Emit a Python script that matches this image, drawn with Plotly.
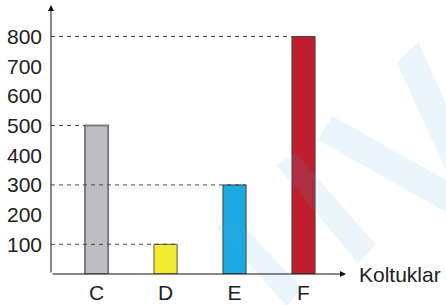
import plotly.graph_objects as go

categories = ["C", "D", "E", "F"]
values = [500, 100, 300, 800]
colors = ["#bdbec2", "#f5eb30", "#1ba9e1", "#be1e2d"]
outlines = ["#7d7d7d", "#555555", "#444444", "#444444"]
y_ticks = [100, 200, 300, 400, 500, 600, 700, 800]
x_title = "Koltuklar"

xpos = list(range(len(categories)))
X0, X1 = -0.66, 3.616
Y0, Y1 = 0, 906
BW = 0.335

fig = go.Figure()

fig.add_trace(go.Bar(
    x=xpos, y=values, width=BW,
    marker=dict(color=colors, line=dict(color=outlines, width=[2, 1, 1, 1])),
    hoverinfo="skip",
))

# dashed reference lines from the y axis to each bar top
for i, v in enumerate(values):
    if categories[i] in ("C",):
        xe = xpos[i] - BW / 2
    else:
        xe = xpos[i] + BW / 2
    fig.add_shape(type="line", xref="x", yref="y", x0=X0, x1=xe, y0=v, y1=v,
                  line=dict(color="#4a4a4a", width=1, dash="4px,4px"), layer="above")

# faint watermark bands (semi-transparent, drawn over the chart like the original)
wm = "#3fb0e0"
for p in [
    "M 1.173 0.784 L 1.244 0.862 L 1.34 0.632 L 1.34 0.383 Z",
    "M 0.953 0.587 L 1.34 0.349 L 1.34 0.230 L 0.905 0.498 Z",
    "M 0.765 0.405 L 0.830 0.450 L 1.10 0.110 L 1.04 0.04 Z",
    "M 0.56 0.175 L 0.62 0.215 L 0.85 -0.05 L 0.80 -0.12 Z",
]:
    fig.add_shape(type="path", xref="paper", yref="paper", layer="above",
                  path=p, fillcolor=wm, opacity=0.11, line=dict(width=0))

# axes with arrows
fig.add_annotation(x=X0, y=Y1, ax=X0, ay=0, xref="x", yref="y", axref="x", ayref="y",
                   showarrow=True, arrowhead=2, arrowsize=1.2, arrowwidth=1,
                   arrowcolor="#111111", text="")
fig.add_annotation(x=X1, y=0, ax=X0, ay=0, xref="x", yref="y", axref="x", ayref="y",
                   showarrow=True, arrowhead=2, arrowsize=1.2, arrowwidth=1,
                   arrowcolor="#111111", text="")
fig.add_annotation(x=X1, y=0, xref="x", yref="y", text=x_title, showarrow=False,
                   xanchor="left", xshift=11, yanchor="middle",
                   font=dict(size=21, color="#222222", family="Liberation Sans, Arial"))

fig.update_layout(
    width=446, height=305,
    margin=dict(l=51, r=100, t=5, b=31, autoexpand=False),
    paper_bgcolor="white", plot_bgcolor="rgba(0,0,0,0)",
    showlegend=False,
    font=dict(family="Liberation Sans, Arial", size=21, color="#222222"),
    xaxis=dict(range=[X0, X1], tickvals=xpos, ticktext=categories, automargin=False,
               showgrid=False, zeroline=False, showline=False, ticks="",
               ticklabelstandoff=4, fixedrange=True),
    yaxis=dict(range=[Y0, Y1], tickvals=y_ticks, showgrid=False, zeroline=False,
               automargin=False,
               showline=False, ticks="", ticklabelstandoff=8, fixedrange=True),
)

fig.write_html("out.html", config={"displayModeBar": False},
               post_script="document.body.style.margin='0px';document.body.style.overflow='hidden';")
